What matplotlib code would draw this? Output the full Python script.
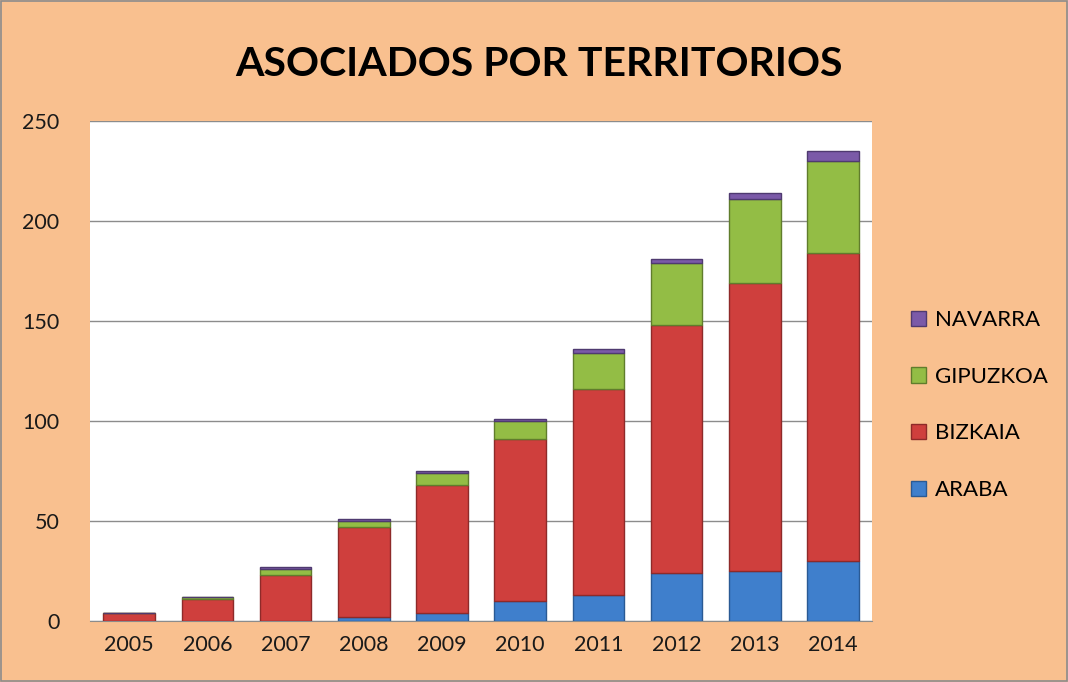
import numpy as np
import matplotlib.pyplot as plt
from matplotlib.patches import Rectangle

plt.rcParams['font.family'] = ['Lato', 'DejaVu Sans']

years = ["2005", "2006", "2007", "2008", "2009", "2010", "2011", "2012", "2013", "2014"]
araba    = [0, 0, 0, 2, 4, 10, 13, 24, 25, 30]
bizkaia  = [4, 11, 23, 45, 64, 81, 103, 124, 144, 154]
gipuzkoa = [0, 1, 3, 3, 6, 9, 18, 31, 42, 46]
navarra  = [0, 0, 1, 1, 1, 1, 2, 2, 3, 5]

series = [
    ("ARABA", araba, "#3f7fcc", "#2a5a94"),
    ("BIZKAIA", bizkaia, "#cf3f3d", "#8e2a29"),
    ("GIPUZKOA", gipuzkoa, "#93bd45", "#607d2c"),
    ("NAVARRA", navarra, "#7b5aa8", "#4f3a70"),
]

BG = "#f9c08f"

fig = plt.figure(figsize=(10.68, 6.82), dpi=100, facecolor=BG)
ax = fig.add_axes([0.0843, 0.0894, 0.7322, 0.7332])
ax.set_facecolor("white")

x = np.arange(len(years))
bottom = np.zeros(len(years))
handles = []
for name, vals, col, edge in series:
    vals = np.array(vals, dtype=float)
    h = ax.bar(x, vals, width=0.66, bottom=bottom, color=col,
               edgecolor=edge, linewidth=1.0, label=name, zorder=3)
    handles.append(h)
    bottom += vals

ax.set_ylim(0, 250)
ax.set_xlim(-0.5, len(years) - 0.5)
ax.set_yticks([0, 50, 100, 150, 200, 250])
ax.set_xticks(x)
ax.set_xticklabels(years)
ax.tick_params(axis="both", length=0, labelsize=15.5, colors="#1a1a1a")
ax.tick_params(axis="y", pad=22)
ax.tick_params(axis="x", pad=10)
ax.yaxis.grid(True, color="#8c8c8c", linewidth=1.0, zorder=0)
for s in ["top", "right", "left"]:
    ax.spines[s].set_visible(False)
ax.spines["bottom"].set_color("#8c8c8c")

fig.text(0.505, 0.905, "ASOCIADOS POR TERRITORIOS", ha="center", va="center",
         fontsize=29.5, fontweight="bold", color="black")

leg = fig.legend(handles[::-1], [s[0] for s in series][::-1],
                 loc="center left", bbox_to_anchor=(0.834, 0.406),
                 frameon=False, fontsize=16, labelspacing=1.65,
                 handlelength=0.7, handleheight=0.7, handletextpad=0.4)

fig.patches.append(Rectangle((0.001, 0.001), 0.998, 0.998, transform=fig.transFigure,
                             fill=False, edgecolor="#8c8c8c", linewidth=1.2))

fig.savefig("out.png", dpi=100, facecolor=BG)
